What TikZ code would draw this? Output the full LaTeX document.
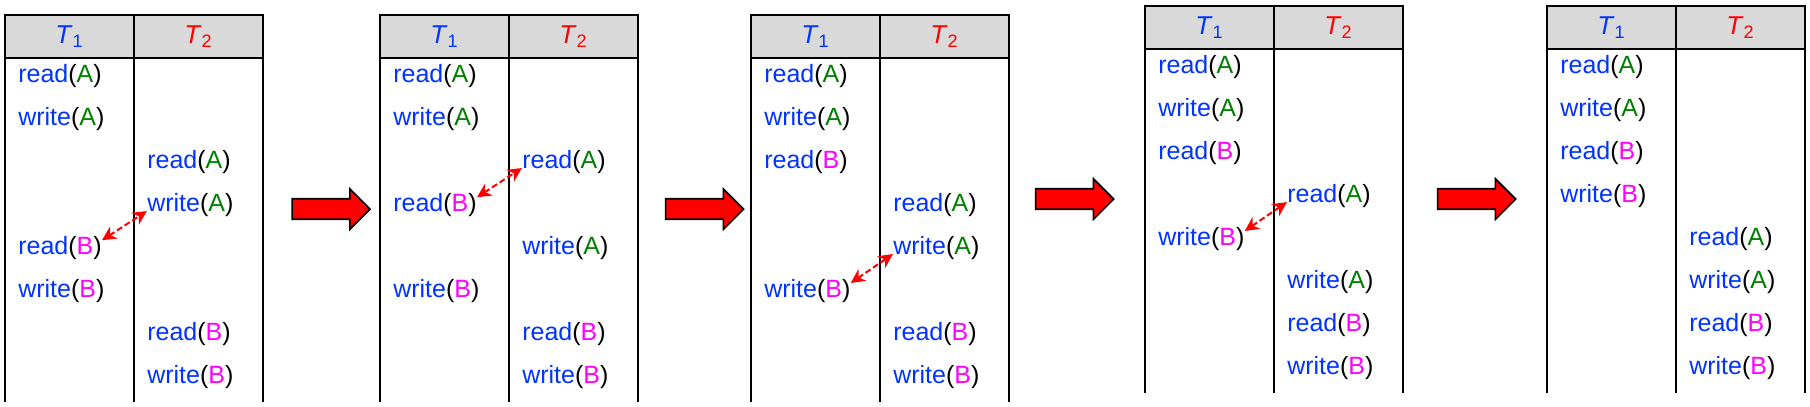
\documentclass[tikz,border=0pt]{standalone}
\usepackage{fontspec}
\setmainfont{Liberation Sans}
\usetikzlibrary{arrows.meta,shapes.arrows}
\definecolor{opblue}{RGB}{0,51,255}
\definecolor{itemgreen}{RGB}{0,128,0}
\definecolor{itemmag}{RGB}{255,0,255}
\definecolor{hdrgray}{RGB}{217,217,217}
\newcommand{\opR}[1]{\textcolor{opblue}{read}(#1)}
\newcommand{\opW}[1]{\textcolor{opblue}{write}(#1)}
\newcommand{\itA}{\textcolor{itemgreen}{A}}
\newcommand{\itB}{\textcolor{itemmag}{B}}
\newcommand{\tone}{\textcolor{opblue}{\textit{T}\textsubscript{1}}}
\newcommand{\ttwo}{\textcolor{red}{\textit{T}\textsubscript{2}}}
\begin{document}
\begin{tikzpicture}[x=0.75cm, y=0.75cm,
  every node/.style={font=\fontsize{12.4}{14}\selectfont},
  tbl/.style={line width=1pt},
  hdr/.style={inner sep=0pt, font=\fontsize{12.8}{14}\selectfont},
  op/.style={anchor=base west, inner sep=0pt},
  conflict/.style={{Stealth[length=7pt,width=7pt]}-{Stealth[length=7pt,width=7pt]}, red, line width=1pt, dash pattern=on 3pt off 1.5pt},
  blockarrow/.style={single arrow, draw=black, fill=red, line width=0.8pt, inner xsep=0pt, inner ysep=0.165cm,
    minimum height=1.36cm, single arrow head extend=0.175cm}]
\useasboundingbox (0,0) rectangle (42.093,9.442);
% Schedule 1 (original)
\begin{scope}[shift={(0.116,0.093)}]
\fill[hdrgray] (0,8) rectangle (6,9);
\draw[tbl] (0,0) -- (0,9) -- (6,9) -- (6,0); \draw[tbl] (3,0) -- (3,9); \draw[tbl] (0,8) -- (6,8);
\node[hdr] (a-t1) at (1.5,8.5) {\tone}; \node[hdr] (a-t2) at (4.5,8.5) {\ttwo};
\node[op] (a1) at (0.3,7.44) {\opR{\itA}};
\node[op] (a2) at (0.3,6.44) {\opW{\itA}};
\node[op] (a3) at (3.3,5.44) {\opR{\itA}};
\node[op] (a4) at (3.3,4.44) {\opW{\itA}};
\node[op] (a5) at (0.3,3.44) {\opR{\itB}};
\node[op] (a6) at (0.3,2.44) {\opW{\itB}};
\node[op] (a7) at (3.3,1.44) {\opR{\itB}};
\node[op] (a8) at (3.3,0.44) {\opW{\itB}};
\draw[conflict] (a5.10) -- (a4.base west);
\end{scope}
\node[blockarrow] (arr1) at (7.581,4.581) {};
% Schedule 2
\begin{scope}[shift={(8.837,0.093)}]
\fill[hdrgray] (0,8) rectangle (6,9);
\draw[tbl] (0,0) -- (0,9) -- (6,9) -- (6,0); \draw[tbl] (3,0) -- (3,9); \draw[tbl] (0,8) -- (6,8);
\node[hdr] (b-t1) at (1.5,8.5) {\tone}; \node[hdr] (b-t2) at (4.5,8.5) {\ttwo};
\node[op] (b1) at (0.3,7.44) {\opR{\itA}};
\node[op] (b2) at (0.3,6.44) {\opW{\itA}};
\node[op] (b3) at (3.3,5.44) {\opR{\itA}};
\node[op] (b4) at (0.3,4.44) {\opR{\itB}};
\node[op] (b5) at (3.3,3.44) {\opW{\itA}};
\node[op] (b6) at (0.3,2.44) {\opW{\itB}};
\node[op] (b7) at (3.3,1.44) {\opR{\itB}};
\node[op] (b8) at (3.3,0.44) {\opW{\itB}};
\draw[conflict] (b4.10) -- (b3.base west);
\end{scope}
\node[blockarrow] (arr2) at (16.267,4.581) {};
% Schedule 3
\begin{scope}[shift={(17.465,0.093)}]
\fill[hdrgray] (0,8) rectangle (6,9);
\draw[tbl] (0,0) -- (0,9) -- (6,9) -- (6,0); \draw[tbl] (3,0) -- (3,9); \draw[tbl] (0,8) -- (6,8);
\node[hdr] (c-t1) at (1.5,8.5) {\tone}; \node[hdr] (c-t2) at (4.5,8.5) {\ttwo};
\node[op] (c1) at (0.3,7.44) {\opR{\itA}};
\node[op] (c2) at (0.3,6.44) {\opW{\itA}};
\node[op] (c3) at (0.3,5.44) {\opR{\itB}};
\node[op] (c4) at (3.3,4.44) {\opR{\itA}};
\node[op] (c5) at (3.3,3.44) {\opW{\itA}};
\node[op] (c6) at (0.3,2.44) {\opW{\itB}};
\node[op] (c7) at (3.3,1.44) {\opR{\itB}};
\node[op] (c8) at (3.3,0.44) {\opW{\itB}};
\draw[conflict] (c6.10) -- (c5.base west);
\end{scope}
\node[blockarrow] (arr3) at (24.872,4.814) {};
% Schedule 4
\begin{scope}[shift={(26.628,0.302)}]
\fill[hdrgray] (0,8) rectangle (6,9);
\draw[tbl] (0,0) -- (0,9) -- (6,9) -- (6,0); \draw[tbl] (3,0) -- (3,9); \draw[tbl] (0,8) -- (6,8);
\node[hdr] (d-t1) at (1.5,8.5) {\tone}; \node[hdr] (d-t2) at (4.5,8.5) {\ttwo};
\node[op] (d1) at (0.3,7.44) {\opR{\itA}};
\node[op] (d2) at (0.3,6.44) {\opW{\itA}};
\node[op] (d3) at (0.3,5.44) {\opR{\itB}};
\node[op] (d4) at (3.3,4.44) {\opR{\itA}};
\node[op] (d5) at (0.3,3.44) {\opW{\itB}};
\node[op] (d6) at (3.3,2.44) {\opW{\itA}};
\node[op] (d7) at (3.3,1.44) {\opR{\itB}};
\node[op] (d8) at (3.3,0.44) {\opW{\itB}};
\draw[conflict] (d5.10) -- (d4.base west);
\end{scope}
\node[blockarrow] (arr4) at (34.221,4.814) {};
% Schedule 5 (serial)
\begin{scope}[shift={(35.977,0.302)}]
\fill[hdrgray] (0,8) rectangle (6,9);
\draw[tbl] (0,0) -- (0,9) -- (6,9) -- (6,0); \draw[tbl] (3,0) -- (3,9); \draw[tbl] (0,8) -- (6,8);
\node[hdr] (e-t1) at (1.5,8.5) {\tone}; \node[hdr] (e-t2) at (4.5,8.5) {\ttwo};
\node[op] (e1) at (0.3,7.44) {\opR{\itA}};
\node[op] (e2) at (0.3,6.44) {\opW{\itA}};
\node[op] (e3) at (0.3,5.44) {\opR{\itB}};
\node[op] (e4) at (0.3,4.44) {\opW{\itB}};
\node[op] (e5) at (3.3,3.44) {\opR{\itA}};
\node[op] (e6) at (3.3,2.44) {\opW{\itA}};
\node[op] (e7) at (3.3,1.44) {\opR{\itB}};
\node[op] (e8) at (3.3,0.44) {\opW{\itB}};
\end{scope}
\end{tikzpicture}
\end{document}
